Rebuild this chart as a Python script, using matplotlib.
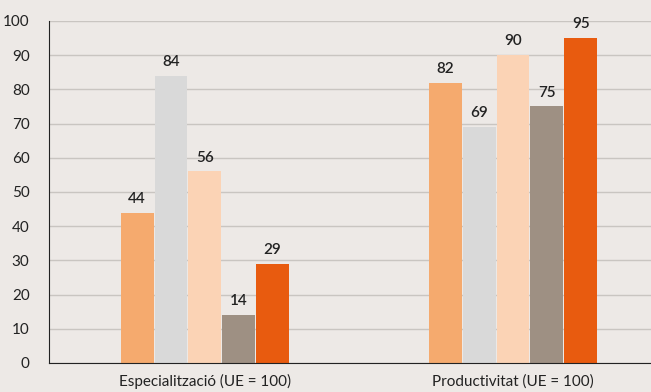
import numpy as np
import matplotlib.pyplot as plt

# Data
categories = ['Especialització (UE = 100)', 'Productivitat (UE = 100)']
series_values = [
    [44, 82],
    [84, 69],
    [56, 90],
    [14, 75],
    [29, 95],
]
colors = ['#f5aa6e', '#d9d9d9', '#fbd3b5', '#9e9083', '#e85b0f']
y_ticks = [0, 10, 20, 30, 40, 50, 60, 70, 80, 90, 100]

plt.rcParams['font.family'] = ['Lato', 'DejaVu Sans']

bg = '#ede9e6'
fig = plt.figure(figsize=(6.51, 3.92), dpi=100, facecolor=bg)
ax = fig.add_axes([49 / 651, 1 - 363 / 392, 602 / 651, 342 / 392], facecolor=bg)

x = np.arange(len(categories))
width = 0.11
n = len(series_values)
for i, vals in enumerate(series_values):
    pos = x + (i - (n - 1) / 2) * width
    bars = ax.bar(pos, vals, width=width * 0.97, color=colors[i], zorder=3)
    ax.bar_label(bars, labels=[str(v) for v in vals], padding=5,
                 fontsize=11, fontweight='semibold', color='#222222')

ax.set_ylim(0, 100)
ax.set_xlim(-0.506, 1.448)
ax.set_yticks(y_ticks)
ax.set_xticks(x)
ax.set_xticklabels(categories, fontsize=11, color='#222222')
ax.tick_params(axis='y', length=0, pad=14, labelsize=11, labelcolor='#222222')
ax.tick_params(axis='x', length=0, pad=8)

ax.grid(axis='y', color='#c9c5c1', linewidth=1, zorder=0)
for s in ['top', 'right']:
    ax.spines[s].set_visible(False)
ax.spines['left'].set_color('#222222')
ax.spines['bottom'].set_color('#222222')
ax.spines['left'].set_zorder(4)
ax.spines['bottom'].set_zorder(4)

plt.savefig('out.png', dpi=100, facecolor=bg)
